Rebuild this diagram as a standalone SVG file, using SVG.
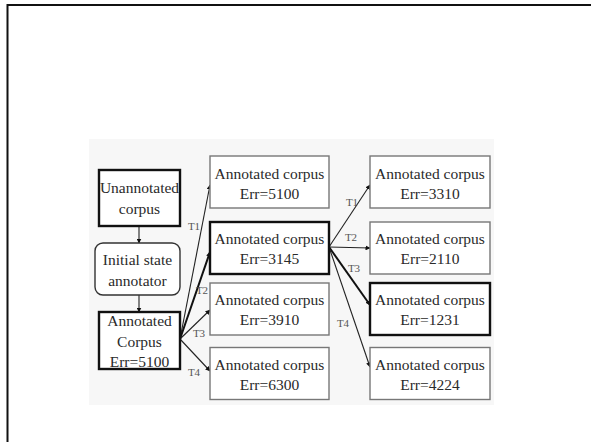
<svg xmlns="http://www.w3.org/2000/svg" width="591" height="442" viewBox="0 0 591 442">
<defs>
<style>
.t{font-family:"Liberation Serif","Times New Roman",serif;font-size:15.5px;fill:#2a2a2a;text-anchor:middle}
.l{font-family:"Liberation Serif","Times New Roman",serif;font-size:11px;fill:#555;text-anchor:middle}
.thin{fill:#fff;stroke:#777;stroke-width:1.4}
.thick{fill:#fff;stroke:#111;stroke-width:2.4}
.c{stroke:#222;stroke-width:1.1;fill:none;marker-end:url(#ah)}
.cb{stroke:#111;stroke-width:2;fill:none;marker-end:url(#ah)}
</style>
<marker id="ah" viewBox="0 0 10 10" refX="9" refY="5" markerWidth="5" markerHeight="5" markerUnits="userSpaceOnUse" orient="auto">
<path d="M0,0 L10,5 L0,10 z" fill="#111"/>
</marker>
</defs>
<rect x="0" y="0" width="591" height="442" fill="#fff"/>
<path d="M7.5,445 L7.5,5 L595,5" fill="none" stroke="#111" stroke-width="2"/>
<rect x="89" y="139" width="405" height="266" fill="#f7f7f7"/>
<g id="connectors">
<line class="c" x1="139" y1="226" x2="139" y2="243"/>
<line class="c" x1="139" y1="295" x2="139" y2="312"/>
<line class="c" x1="180" y1="339" x2="210" y2="185"/>
<line class="cb" x1="180" y1="339" x2="210" y2="252"/>
<line class="c" x1="180" y1="339" x2="210" y2="310"/>
<line class="c" x1="180" y1="339" x2="210" y2="371"/>
<line class="c" x1="329" y1="247" x2="370" y2="185"/>
<line class="c" x1="329" y1="247" x2="370" y2="248"/>
<line class="cb" x1="329" y1="247" x2="370" y2="305"/>
<line class="c" x1="329" y1="247" x2="370" y2="367"/>
<text class="l" x="194" y="230">T1</text>
<text class="l" x="202" y="294">T2</text>
<text class="l" x="199" y="337">T3</text>
<text class="l" x="194" y="376">T4</text>
<text class="l" x="352" y="206">T1</text>
<text class="l" x="351" y="241">T2</text>
<text class="l" x="354" y="272">T3</text>
<text class="l" x="343" y="327">T4</text>
</g>
<g id="unannotated">
<rect class="thick" x="99" y="170" width="81" height="56"/>
<text class="t" x="139.5" y="193">Unannotated</text>
<text class="t" x="139.5" y="214">corpus</text>
</g>
<g id="initial">
<rect class="thin" x="95" y="243" width="85" height="52" rx="8" style="stroke:#333"/>
<text class="t" x="137.5" y="265">Initial state</text>
<text class="t" x="137.5" y="286">annotator</text>
</g>
<g id="annotated0">
<rect class="thick" x="99" y="312" width="81" height="57"/>
<text class="t" x="139.5" y="326">Annotated</text>
<text class="t" x="139.5" y="347">Corpus</text>
<text class="t" x="139.5" y="367">Err=5100</text>
</g>
<g id="m1">
<rect class="thin" x="210" y="156" width="119" height="52"/>
<text class="t" x="269.5" y="179">Annotated corpus</text>
<text class="t" x="269.5" y="199">Err=5100</text>
</g>
<g id="m2">
<rect class="thick" x="210" y="222" width="119" height="52"/>
<text class="t" x="269.5" y="244">Annotated corpus</text>
<text class="t" x="269.5" y="264">Err=3145</text>
</g>
<g id="m3">
<rect class="thin" x="210" y="283" width="119" height="52"/>
<text class="t" x="269.5" y="305">Annotated corpus</text>
<text class="t" x="269.5" y="325">Err=3910</text>
</g>
<g id="m4">
<rect class="thin" x="210" y="347.5" width="119" height="52"/>
<text class="t" x="269.5" y="370">Annotated corpus</text>
<text class="t" x="269.5" y="390">Err=6300</text>
</g>
<g id="r1">
<rect class="thin" x="370" y="156" width="120" height="52"/>
<text class="t" x="430" y="179">Annotated corpus</text>
<text class="t" x="430" y="199">Err=3310</text>
</g>
<g id="r2">
<rect class="thin" x="370" y="222" width="120" height="52"/>
<text class="t" x="430" y="244">Annotated corpus</text>
<text class="t" x="430" y="264">Err=2110</text>
</g>
<g id="r3">
<rect class="thick" x="370" y="283" width="120" height="52"/>
<text class="t" x="430" y="305">Annotated corpus</text>
<text class="t" x="430" y="325">Err=1231</text>
</g>
<g id="r4">
<rect class="thin" x="370" y="347.5" width="120" height="52"/>
<text class="t" x="430" y="370">Annotated corpus</text>
<text class="t" x="430" y="390">Err=4224</text>
</g>
</svg>
